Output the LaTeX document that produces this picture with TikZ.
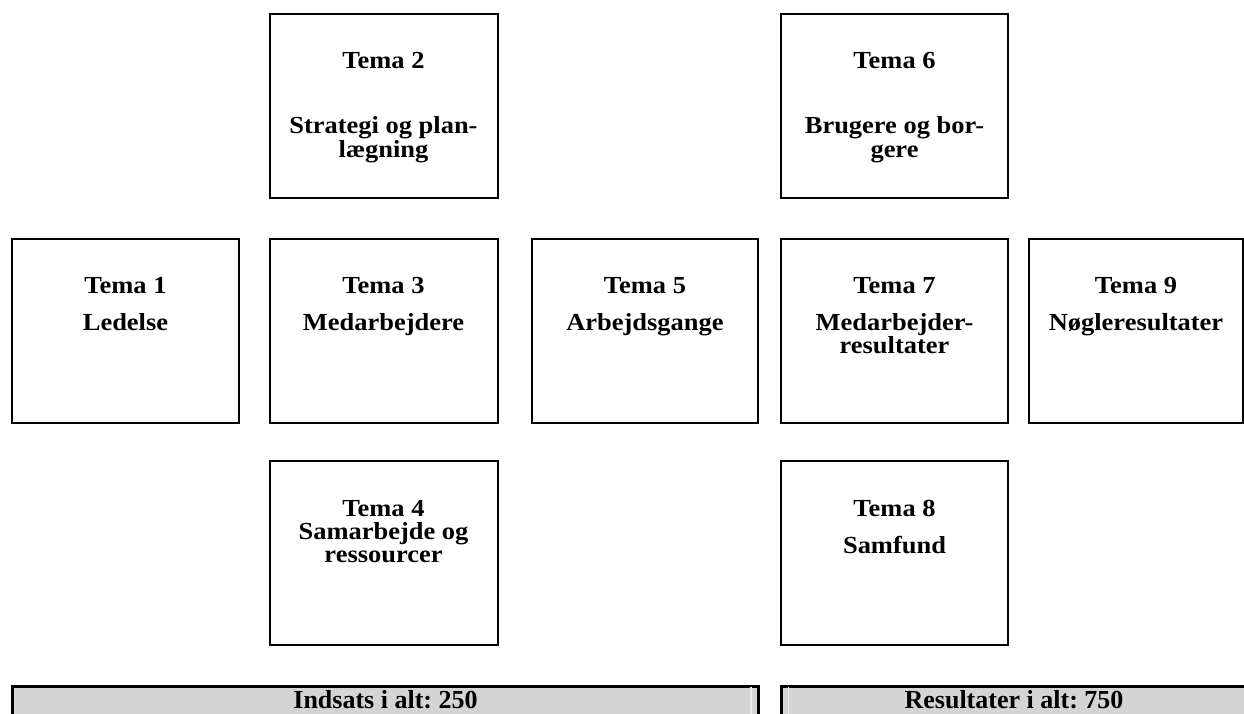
\documentclass[tikz,border=0pt]{standalone}
\usepackage{fontspec}
\setmainfont{Liberation Serif}
\newfontfamily\boxfont[FakeStretch=1.08]{Liberation Serif}
\definecolor{barfill}{RGB}{212,212,212}
\definecolor{barline}{RGB}{236,236,236}
\begin{document}
\frenchspacing
\begin{tikzpicture}[x=1pt,y=-1pt,
  box/.style={draw, line width=2pt, inner sep=0pt, anchor=north west, minimum height=184pt},
  bar/.style={draw, fill=barfill, line width=3pt, inner sep=0pt, anchor=north west, minimum height=40pt},
  txt/.style={font=\boxfont\bfseries\fontsize{24.5}{23}\selectfont, anchor=base, inner sep=0pt, text height=16pt, text depth=4pt},
  bartxt/.style={font=\bfseries\fontsize{26}{23}\selectfont, anchor=base, inner sep=0pt, text height=16pt, text depth=4pt},
  barsep/.style={draw=barline, line width=1.2pt}]
\useasboundingbox (0,0) rectangle (1244,713);
% row 1
\node[box, minimum width=228pt] (b2) at (268.5,12.5) {};
\node[box, minimum width=227pt] (b6) at (780,12.5) {};
% row 2
\node[box, minimum width=227pt] (b1) at (11,237.5) {};
\node[box, minimum width=228pt] (b3) at (268.5,237.5) {};
\node[box, minimum width=226pt] (b5) at (531,237.5) {};
\node[box, minimum width=227pt] (b7) at (780,237.5) {};
\node[box, minimum width=214pt] (b9) at (1028,237.5) {};
% row 3
\node[box, minimum width=228pt] (b4) at (268.5,460) {};
\node[box, minimum width=227pt] (b8) at (780,460) {};
% texts row 1
\node[txt] (t2a) at ([yshift=-56pt]b2.north) {Tema 2};
\node[txt] (t2b) at ([yshift=-121pt]b2.north) {Strategi og plan-};
\node[txt] (t2c) at ([yshift=-145pt]b2.north) {lægning};
\node[txt] (t6a) at ([yshift=-56pt]b6.north) {Tema 6};
\node[txt] (t6b) at ([yshift=-121pt]b6.north) {Brugere og bor-};
\node[txt] (t6c) at ([yshift=-145pt]b6.north) {gere};
% texts row 2
\node[txt] (t1a) at ([yshift=-56pt]b1.north) {Tema 1};
\node[txt] (t1b) at ([yshift=-93pt]b1.north) {Ledelse};
\node[txt] (t3a) at ([yshift=-56pt]b3.north) {Tema 3};
\node[txt] (t3b) at ([yshift=-93pt]b3.north) {Medarbejdere};
\node[txt] (t5a) at ([yshift=-56pt]b5.north) {Tema 5};
\node[txt] (t5b) at ([yshift=-93pt]b5.north) {Arbejdsgange};
\node[txt] (t7a) at ([yshift=-56pt]b7.north) {Tema 7};
\node[txt] (t7b) at ([yshift=-93pt]b7.north) {Medarbejder-};
\node[txt] (t7c) at ([yshift=-116pt]b7.north) {resultater};
\node[txt] (t9a) at ([yshift=-56pt]b9.north) {Tema 9};
\node[txt] (t9b) at ([yshift=-93pt]b9.north) {Nøgleresultater};
% texts row 3
\node[txt] (t4a) at ([yshift=-56pt]b4.north) {Tema 4};
\node[txt] (t4b) at ([yshift=-79pt]b4.north) {Samarbejde og};
\node[txt] (t4c) at ([yshift=-102pt]b4.north) {ressourcer};
\node[txt] (t8a) at ([yshift=-56pt]b8.north) {Tema 8};
\node[txt] (t8b) at ([yshift=-93pt]b8.north) {Samfund};
% bottom bars
\node[bar, minimum width=746pt] (ba) at (11,685) {};
\node[bar, minimum width=480pt] (bb) at (779.5,685) {};
\draw[barsep] ([xshift=-9pt,yshift=-1.5pt]ba.north east) -- ([xshift=-9pt]ba.south east);
\draw[barsep] ([xshift=9pt,yshift=-1.5pt]bb.north west) -- ([xshift=9pt]bb.south west);
\node[bartxt] (tba) at ([yshift=-23pt]ba.north) {Indsats i alt: 250};
\node[bartxt] (tbb) at ([yshift=-23pt]bb.north -| 1014,0) {Resultater i alt: 750};
\end{tikzpicture}
\end{document}
